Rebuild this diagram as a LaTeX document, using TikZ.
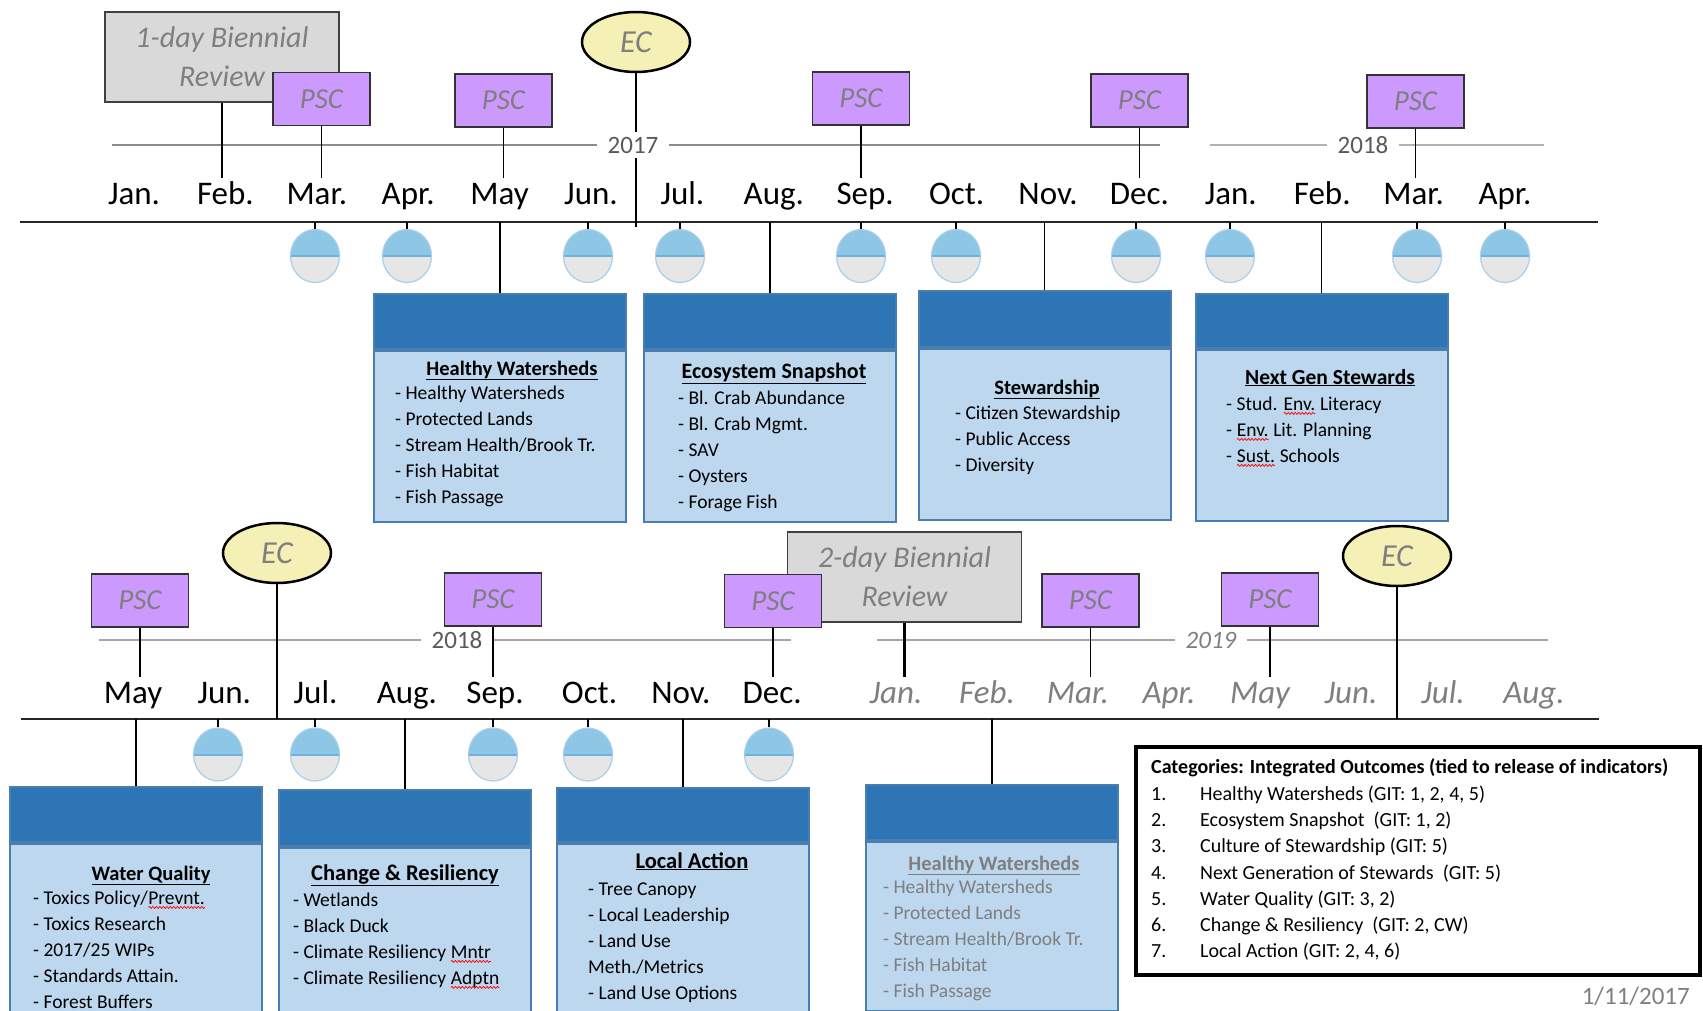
\documentclass[tikz,border=0pt]{standalone}
\usepackage{fontspec}
\setmainfont{Carlito}
\usetikzlibrary{shapes.geometric,decorations.pathmorphing}

\definecolor{pscfill}{HTML}{CC99FF}
\definecolor{ecfill}{HTML}{F5F0B6}
\definecolor{revfill}{HTML}{D9D9D9}
\definecolor{headblue}{HTML}{2E75B6}
\definecolor{bodyblue}{HTML}{BDD7EE}
\definecolor{boxline}{HTML}{4A7DB0}
\definecolor{droptop}{HTML}{8EC6E5}
\definecolor{dropbot}{HTML}{E6E6E6}
\definecolor{dropline}{HTML}{A9CFEA}
\definecolor{dropmid}{HTML}{6FB0DF}
\definecolor{txtgray}{HTML}{7F7F7F}

\newcommand\spellwave[1]{\tikz[baseline=(sw.base)]{\node[inner sep=0pt, outer sep=0pt, anchor=base] (sw) {#1};
  \draw[red, line width=0.7pt, decorate, decoration={snake, amplitude=1pt, segment length=3.5pt}] ([yshift=-3pt]sw.base west) -- ([yshift=-3pt]sw.base east);}}

\begin{document}
\begin{tikzpicture}[x=1pt, y=-1pt,
  psc/.style={draw=black!80, line width=1.5pt, fill=pscfill, minimum width=97pt, minimum height=53pt, inner sep=0pt, text=txtgray, font=\fontsize{29}{30}\selectfont\itshape},
  ec/.style={ellipse, draw=black, line width=2.5pt, fill=ecfill, minimum width=108pt, minimum height=60pt, inner sep=0pt, text=txtgray, font=\fontsize{32}{34}\selectfont\itshape},
  review/.style={draw=black!75, line width=1.5pt, fill=revfill, minimum width=234pt, minimum height=90pt, align=center, text=txtgray, font=\fontsize{30}{39}\selectfont\itshape},
  month/.style={inner xsep=0pt, inner ysep=5pt, text height=21pt, text depth=7pt, font=\fontsize{33}{35}\selectfont},
  later/.style={month, text=txtgray, font=\fontsize{33}{35}\selectfont\itshape},
  year/.style={inner xsep=10pt, inner ysep=5pt, text=black!65, font=\fontsize{25}{27}\selectfont},
  yearline/.style={draw=black!45, line width=2pt},
  timeaxis/.style={draw=black!85, line width=2pt},
  stem/.style={draw, line width=1.3pt},
  drop/.style={ellipse, draw=dropline, line width=1.2pt, minimum width=49pt, minimum height=53pt, inner sep=0pt,
    path picture={
      \fill[droptop] (path picture bounding box.north west) rectangle (path picture bounding box.east);
      \fill[dropbot] (path picture bounding box.west) rectangle (path picture bounding box.south east);
      \draw[dropmid, line width=2pt] (path picture bounding box.west) -- (path picture bounding box.east);}},
  cathead/.style={draw=boxline, line width=2pt, fill=headblue, minimum width=252pt, anchor=north},
  catbody/.style={draw=boxline, line width=2pt, fill=bodyblue, minimum width=252pt, anchor=north},
  cattitle/.style={anchor=base, inner sep=0pt, font=\fontsize{20.5}{24}\selectfont\bfseries},
  catitems/.style={anchor=north west, align=left, inner sep=0pt, font=\fontsize{19.5}{26}\selectfont},
]
\useasboundingbox (0,0) rectangle (1703,1010);
\clip (0,0) rectangle (1703,1010);

\node[review] (r1) at (222,57) {1-day Biennial\\Review};
\node[psc] (p1) at (321.5,99) {PSC};
\node[psc] (p2) at (503.5,100.5) {PSC};
\node[psc] (p3) at (861,98.5) {PSC};
\node[psc] (p4) at (1139.5,100.5) {PSC};
\node[psc] (p5) at (1415.5,101.5) {PSC};
\node[ec] (e1) at (636,42) {EC};

\node[year] (y1) at (633,145) {2017};
\node[year] (y2) at (1363,145) {2018};
\coordinate (a1) at (112,145);
\coordinate (a2) at (1160,145);
\coordinate (a3) at (1210,145);
\coordinate (a4) at (1544,145);
\path[yearline] (a1) -- (y1.west);
\path[yearline] (y1.east) -- (a2);
\path[yearline, draw=black!30] (a3) -- (y2.west);
\path[yearline, draw=black!30] (y2.east) -- (a4);

\node[month] (m1) at (134,197) {Jan.};
\node[month] (m2) at (225.4,197) {Feb.};
\node[month] (m3) at (316.8,197) {Mar.};
\node[month] (m4) at (408.2,197) {Apr.};
\node[month] (m5) at (499.6,197) {May};
\node[month] (m6) at (591,197) {Jun.};
\node[month] (m7) at (682.4,197) {Jul.};
\node[month] (m8) at (773.8,197) {Aug.};
\node[month] (m9) at (865.2,197) {Sep.};
\node[month] (m10) at (956.6,197) {Oct.};
\node[month] (m11) at (1048,197) {Nov.};
\node[month] (m12) at (1139.4,197) {Dec.};
\node[month] (m13) at (1230.8,197) {Jan.};
\node[month] (m14) at (1322.2,197) {Feb.};
\node[month] (m15) at (1413.6,197) {Mar.};
\node[month] (m16) at (1505,197) {Apr.};

\coordinate (axL) at (20,222);
\coordinate (axR) at (1598,222);
\path[timeaxis] (axL) -- (axR);

\path[stem] (r1.south) -- (r1.south |- m2.north);
\path[stem] (p1.south) -- (p1.south |- m3.north);
\path[stem] (p2.south) -- (p2.south |- m5.north);
\path[stem] (p3.south) -- (p3.south |- m9.north);
\path[stem] (p4.south) -- (p4.south |- m12.north);
\path[stem] (p5.south) -- (p5.south |- m15.north);
\path[stem, line width=1.6pt] (e1.south) -- (e1.south |- y1.north);
\path[stem, line width=1.6pt] (e1.south |- y1.south) -- ([yshift=-5pt]e1.south |- axL);

\node[drop] (d1) at (315,256) {};
\node[drop] (d2) at (407,256) {};
\node[drop] (d3) at (588,256) {};
\node[drop] (d4) at (680,256) {};
\node[drop] (d5) at (861,256) {};
\node[drop] (d6) at (956,256) {};
\node[drop] (d7) at (1136,256) {};
\node[drop] (d8) at (1230,256) {};
\node[drop] (d9) at (1417,256) {};
\node[drop] (d10) at (1505,256) {};
\path[stem] (d1.north) -- (d1.north |- axL);
\path[stem] (d2.north) -- (d2.north |- axL);
\path[stem] (d3.north) -- (d3.north |- axL);
\path[stem] (d4.north) -- (d4.north |- axL);
\path[stem] (d5.north) -- (d5.north |- axL);
\path[stem] (d6.north) -- (d6.north |- axL);
\path[stem] (d7.north) -- (d7.north |- axL);
\path[stem] (d8.north) -- (d8.north |- axL);
\path[stem] (d9.north) -- (d9.north |- axL);
\path[stem] (d10.north) -- (d10.north |- axL);

\node[cathead, minimum height=55pt] (h1) at (500,293) {};
\node[catbody, minimum height=171pt] (b1) at (h1.south) {};
\node[cathead, minimum height=55pt] (h2) at (770,293) {};
\node[catbody, minimum height=171pt] (b2) at (h2.south) {};
\node[cathead, minimum height=56pt] (h3) at (1044.5,290) {};
\node[catbody, minimum height=171pt] (b3) at (h3.south) {};
\node[cathead, minimum height=54pt] (h4) at (1321.5,293) {};
\node[catbody, minimum height=171pt] (b4) at (h4.south) {};
\path[stem] (h1.north) -- (h1.north |- axL);
\path[stem] (h2.north) -- (h2.north |- axL);
\path[stem] (h3.north) -- (h3.north |- axL);
\path[stem] (h4.north) -- (h4.north |- axL);

\node[cattitle] (t1) at (512,375) {\underline{Healthy Watersheds}};
\node[catitems] (i1) at (395,381) {\strut- Healthy Watersheds\\- Protected Lands\\- Stream Health/Brook Tr.\\- Fish Habitat\\- Fish Passage};
\node[cattitle, font=\fontsize{22}{24}\selectfont\bfseries] (t2) at (774,378) {\underline{Ecosystem Snapshot}};
\node[catitems] (i2) at (678,386) {\strut- Bl. Crab Abundance\\- Bl. Crab Mgmt.\\- SAV\\- Oysters\\- Forage Fish};
\node[cattitle] (t3) at (1047,394) {\underline{Stewardship}};
\node[catitems] (i3) at (955,401) {\strut- Citizen Stewardship\\- Public Access\\- Diversity};
\node[cattitle, font=\fontsize{21.5}{24}\selectfont\bfseries] (t4) at (1330,384) {\underline{Next Gen Stewards}};
\node[catitems] (i4) at (1226,392) {\strut- Stud. \spellwave{Env.} Literacy\\- \spellwave{Env.} Lit. Planning\\- \spellwave{Sust.} Schools};

\node[review] (r2) at (904.5,577) {2-day Biennial\\Review};
\node[psc] (q1) at (140,600.5) {PSC};
\node[psc] (q2) at (493,599.5) {PSC};
\node[psc] (q3) at (773,601) {PSC};
\node[psc] (q4) at (1090.5,600.5) {PSC};
\node[psc] (q5) at (1270,599.5) {PSC};
\node[ec] (e2) at (277,553) {EC};
\node[ec] (e3) at (1397,556) {EC};

\node[year] (y3) at (457,640) {2018};
\node[year, text=txtgray, font=\fontsize{25}{27}\selectfont\itshape] (y4) at (1211,640) {2019};
\coordinate (c1) at (99,640);
\coordinate (c2) at (791,640);
\coordinate (c3) at (877,640);
\coordinate (c4) at (1548,640);
\path[yearline, draw=black!35] (c1) -- (y3.west);
\path[yearline, draw=black!35] (y3.east) -- (c2);
\path[yearline, draw=black!35] (c3) -- (y4.west);
\path[yearline, draw=black!35] (y4.east) -- (c4);

\node[month] (n1) at (133,696) {May};
\node[month] (n2) at (224.3,696) {Jun.};
\node[month] (n3) at (315.6,696) {Jul.};
\node[month] (n4) at (406.9,696) {Aug.};
\node[month] (n5) at (495,696) {Sep.};
\node[month] (n6) at (589.5,696) {Oct.};
\node[month] (n7) at (680.8,696) {Nov.};
\node[month] (n8) at (772.1,696) {Dec.};
\node[later] (n9) at (896,696) {Jan.};
\node[later] (n10) at (987,696) {Feb.};
\node[later] (n11) at (1078,696) {Mar.};
\node[later] (n12) at (1169,696) {Apr.};
\node[later] (n13) at (1260,696) {May};
\node[later] (n14) at (1351,696) {Jun.};
\node[later] (n15) at (1443,696) {Jul.};
\node[later] (n16) at (1534,696) {Aug.};

\coordinate (bxL) at (21,719);
\coordinate (bxR) at (1599,719);
\path[timeaxis] (bxL) -- (bxR);

\path[stem] (q1.south) -- (q1.south |- n1.north);
\path[stem] (q2.south) -- (q2.south |- n5.north);
\path[stem] (q3.south) -- (q3.south |- n8.north);
\path[stem] (q4.south) -- (q4.south |- n11.north);
\path[stem] (q5.south) -- (q5.south |- n13.north);
\path[stem, line width=2.5pt] (r2.south) -- (r2.south |- n9.north);
\path[stem, line width=1.6pt] (e2.south) -- (e2.south |- bxL);
\path[stem, line width=1.6pt] (e3.south) -- (e3.south |- bxL);

\node[drop] (d11) at (218,754.5) {};
\node[drop] (d12) at (315,754.5) {};
\node[drop] (d13) at (493,754.5) {};
\node[drop] (d14) at (588,754.5) {};
\node[drop] (d15) at (769,754.5) {};
\path[stem] (d11.north) -- (d11.north |- bxL);
\path[stem] (d12.north) -- (d12.north |- bxL);
\path[stem] (d13.north) -- (d13.north |- bxL);
\path[stem] (d14.north) -- (d14.north |- bxL);
\path[stem] (d15.north) -- (d15.north |- bxL);

\node[cathead, minimum height=55pt] (h5) at (136,786) {};
\node[catbody, minimum height=174pt] (b5) at (h5.south) {};
\node[cathead, minimum height=56pt] (h6) at (405,789) {};
\node[catbody, minimum height=170pt] (b6) at (h6.south) {};
\node[cathead, minimum height=54pt] (h7) at (683,787) {};
\node[catbody, minimum height=174pt] (b7) at (h7.south) {};
\node[cathead, minimum height=55pt] (h8) at (992,784) {};
\node[catbody, minimum height=169pt] (b8) at (h8.south) {};
\path[stem] (h5.north) -- (h5.north |- bxL);
\path[stem] (h6.north) -- (h6.north |- bxL);
\path[stem] (h7.north) -- (h7.north |- bxL);
\path[stem] (h8.north) -- (h8.north |- bxL);

\node[cattitle] (t5) at (151,880) {\underline{Water Quality}};
\node[catitems] (i5) at (33,886) {\strut- Toxics Policy/\spellwave{Prevnt.}\\- Toxics Research\\- 2017/25 WIPs\\- Standards Attain.\\- Forest Buffers};
\node[cattitle, font=\fontsize{22.5}{24}\selectfont\bfseries] (t6) at (405,880) {\underline{Change \& Resiliency}};
\node[catitems] (i6) at (293,888) {\strut- Wetlands\\- Black Duck\\- Climate Resiliency \spellwave{Mntr}\\- Climate Resiliency \spellwave{Adptn}};
\node[cattitle, font=\fontsize{22.5}{24}\selectfont\bfseries] (t7) at (692,868) {\underline{Local Action}};
\node[catitems] (i7) at (588,877) {\strut- Tree Canopy\\- Local Leadership\\- Land Use\\Meth./Metrics\\- Land Use Options};
\node[cattitle, text=txtgray] (t8) at (994,870) {\underline{Healthy Watersheds}};
\node[catitems, text=txtgray] (i8) at (883,875) {\strut- Healthy Watersheds\\- Protected Lands\\- Stream Health/Brook Tr.\\- Fish Habitat\\- Fish Passage};

\node[draw, line width=3.5pt, minimum width=564pt, minimum height=228pt] (lg) at (1418,861) {};
\node[anchor=base west, inner sep=0pt, font=\fontsize{20}{26}\selectfont\bfseries] (lt) at (1151,773.5) {Categories: Integrated Outcomes (tied to release of indicators)};
\node[anchor=north west, align=left, inner sep=0pt, font=\fontsize{20}{26.2}\selectfont] (ln) at (1151,782) {\strut1.\\2.\\3.\\4.\\5.\\6.\\7.};
\node[anchor=north west, align=left, inner sep=0pt, font=\fontsize{20}{26.2}\selectfont] (lx) at (1200,782) {\strut Healthy Watersheds (GIT: 1, 2, 4, 5)\\Ecosystem Snapshot~ (GIT: 1, 2)\\Culture of Stewardship (GIT: 5)\\Next Generation of Stewards~ (GIT: 5)\\Water Quality (GIT: 3, 2)\\Change \& Resiliency~ (GIT: 2, CW)\\Local Action (GIT: 2, 4, 6)};

\node[anchor=base east, inner sep=0pt, text=txtgray, font=\fontsize{25}{27}\selectfont] (dt) at (1690,1004) {1/11/2017};
\end{tikzpicture}
\end{document}
